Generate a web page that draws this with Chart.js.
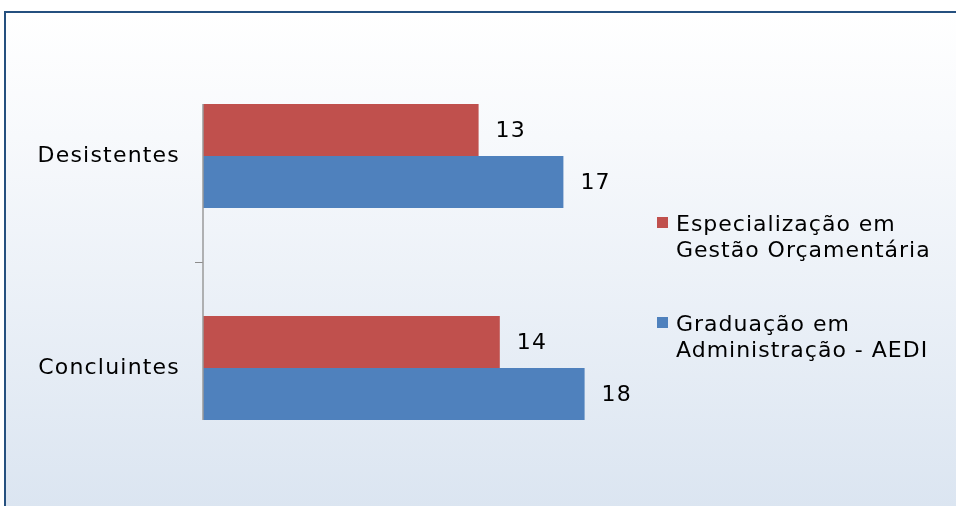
<!DOCTYPE html>
<html>
<head>
<meta charset="utf-8">
<script src="https://cdn.jsdelivr.net/npm/chart.js@4/dist/chart.umd.min.js"></script>
<style>
  html, body { margin: 0; padding: 0; background: #fff; overflow: hidden; }
  #stage { position: relative; width: 957px; height: 506px; overflow: hidden; }
  #frame {
    position: absolute; left: 4px; top: 11px; width: 950px; height: 495px;
    border-top: 2px solid #25507f; border-left: 2px solid #25507f;
    background: linear-gradient(to bottom, #ffffff 0%, #f7f9fc 25%, #dbe5f1 100%);
  }
  #wrap { position: absolute; left: 7px; top: 13px; width: 948px; height: 493px; }
  #legend {
    position: absolute; left: 657px; top: 211px;
    font-family: 'DejaVu Sans', sans-serif; font-size: 22px; letter-spacing: 1px;
    color: #000; line-height: 26px;
  }
  .item { position: relative; padding-left: 19px; margin-bottom: 48px; }
  .item .box { position: absolute; left: 0; top: 6px; width: 11px; height: 11px; }
</style>
</head>
<body>
<div id="stage">
  <div id="frame"></div>
  <div id="wrap"><canvas id="chart"></canvas></div>
  <div id="legend"></div>
</div>
<script>
const categories = ['Desistentes', 'Concluintes'];
const seriesNames = [
  ['Especialização em', 'Gestão Orçamentária'],
  ['Graduação em', 'Administração - AEDI']
];
const especializacao = [13, 14];
const graduacao = [17, 18];
const seriesColors = ['#c0504d', '#4f81bd'];

const FONT = 'DejaVu Sans';
const SPACING = '1.2px';

// the original picture is stretched sideways; widen the canvas text a bit
const spacingPlugin = {
  id: 'spacing',
  beforeLayout(chart) { chart.ctx.letterSpacing = SPACING; },
  beforeDraw(chart) { chart.ctx.letterSpacing = SPACING; }
};

const valueLabels = {
  id: 'valueLabels',
  afterDatasetsDraw(chart) {
    const ctx = chart.ctx;
    ctx.save();
    ctx.letterSpacing = SPACING;
    ctx.font = `22px '${FONT}'`;
    ctx.fillStyle = '#000';
    ctx.textAlign = 'left';
    ctx.textBaseline = 'middle';
    chart.data.datasets.forEach((ds, di) => {
      chart.getDatasetMeta(di).data.forEach((bar, i) => {
        ctx.fillText(String(ds.data[i]), bar.x + 17, bar.y + 1);
      });
    });
    ctx.restore();
  }
};

// axis line only along the bars, as in the picture
const axisLine = {
  id: 'axisLine',
  afterDatasetsDraw(chart) {
    let top = Infinity, bottom = -Infinity;
    chart.data.datasets.forEach((ds, di) => {
      chart.getDatasetMeta(di).data.forEach((bar) => {
        const { y, height } = bar.getProps(['y', 'height'], true);
        top = Math.min(top, y - height / 2);
        bottom = Math.max(bottom, y + height / 2);
      });
    });
    const ctx = chart.ctx;
    ctx.save();
    ctx.strokeStyle = '#9a9a9a';
    ctx.lineWidth = 1.5;
    ctx.beginPath();
    ctx.moveTo(chart.chartArea.left, top);
    ctx.lineTo(chart.chartArea.left, bottom);
    ctx.stroke();
    ctx.restore();
  }
};

const chart = new Chart(document.getElementById('chart'), {
  type: 'bar',
  data: {
    labels: categories,
    datasets: [
      { label: seriesNames[0].join(' '), data: especializacao, backgroundColor: seriesColors[0] },
      { label: seriesNames[1].join(' '), data: graduacao, backgroundColor: seriesColors[1] }
    ]
  },
  options: {
    indexAxis: 'y',
    responsive: true,
    maintainAspectRatio: false,
    animation: false,
    categoryPercentage: 0.49,
    barPercentage: 1,
    layout: { padding: { top: 37, bottom: 32, left: 0, right: 328 } },
    plugins: { legend: { display: false }, tooltip: { enabled: false } },
    scales: {
      x: { display: false, min: 0, max: 20 },
      y: {
        afterFit(scale) { scale.width = 196; },
        border: { display: false },
        grid: {
          drawOnChartArea: false,
          tickLength: 8,
          color: (c) => (c.index === 1 ? '#8c8c8c' : 'rgba(0,0,0,0)')
        },
        ticks: {
          padding: 15,
          color: '#000',
          font: { family: FONT, size: 22 }
        }
      }
    }
  },
  plugins: [spacingPlugin, axisLine, valueLabels]
});

const legend = document.getElementById('legend');
legend.innerHTML = seriesNames.map((lines, i) => `
  <div class="item">
    <span class="box" style="background:${seriesColors[i]}"></span>
    ${lines.join('<br>')}
  </div>`).join('');
</script>
</body>
</html>
